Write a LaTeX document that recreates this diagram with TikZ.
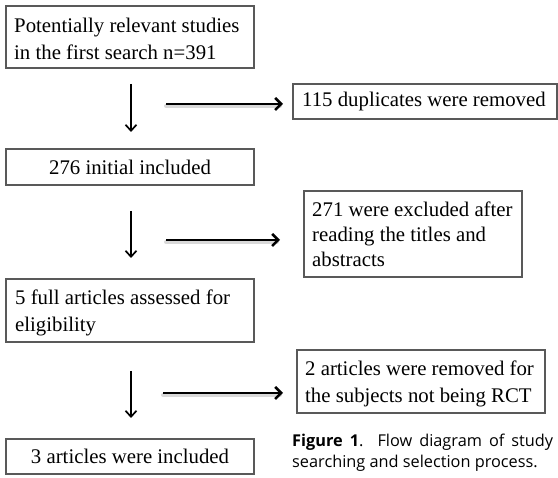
\documentclass[tikz,border=0pt]{standalone}
\usepackage{fontspec}
\setmainfont{Liberation Serif}
\newfontfamily\capfont{Open Sans}
\usetikzlibrary{arrows.meta}
\begin{document}
\begin{tikzpicture}[x=1pt,y=-1pt,
  flowbox/.style={draw=black!65, line width=1.1pt, inner sep=0pt, outer sep=0pt},
  boxtext/.style={inner sep=0pt, font=\fontsize{20.8}{27}\selectfont},
  lefttext/.style={boxtext, align=left, anchor=west},
  downarrow/.style={line width=1.7pt, -{Straight Barb[length=6pt,width=11pt,line width=1.7pt]}},
  sidearrow/.style={line width=2.6pt, -{Straight Barb[length=6pt,width=12pt,line width=2.6pt]}},
  arrowshade/.style={line width=4pt, black, opacity=0.15, line cap=round}]
\useasboundingbox (0,0) rectangle (558,478);

% boxes of the main column
\node[flowbox, minimum width=248pt, minimum height=62pt] (search) at (130,37) {};
\node[flowbox, minimum width=248pt, minimum height=36pt] (initial) at (130,167) {};
\node[flowbox, minimum width=248pt, minimum height=63pt] (full) at (130,310.5) {};
\node[flowbox, minimum width=248pt, minimum height=35pt] (final) at (130,456.5) {};

% boxes of the side column
\node[flowbox, minimum width=264pt, minimum height=35pt] (dup) at (425,101.5) {};
\node[flowbox, minimum width=218pt, minimum height=86pt] (excl) at (413,234) {};
\node[flowbox, minimum width=248pt, minimum height=63pt] (rct) at (421,381.5) {};

% texts of the boxes (canvas y points up, so a negative yshift lowers them)
\node[lefttext] (searcht) at ([xshift=8pt,yshift=-2pt]search.west)
  {Potentially relevant studies\\in the first search n=391};
\node[boxtext] (initialt) at (initial.center) {276 initial included};
\node[lefttext] (fullt) at ([xshift=9pt,yshift=-2pt]full.west)
  {5 full articles assessed for\\eligibility};
\node[boxtext] (finalt) at (final.center) {3 articles were included};
\node[lefttext] (dupt) at ([xshift=9pt]dup.west) {115 duplicates were removed};
\node[lefttext, font=\fontsize{20.8}{25}\selectfont] (exclt) at ([xshift=8pt]excl.west)
  {271 were excluded after\\reading the titles and\\abstracts};
\node[lefttext] (rctt) at ([xshift=8pt,yshift=-2pt]rct.west)
  {2 articles were removed for\\the subjects not being RCT};

% free ends of the arrows
\coordinate (d1s) at (131,84);  \coordinate (d1e) at (131,132);
\coordinate (d2s) at (131,211); \coordinate (d2e) at (131,258);
\coordinate (d3s) at (131,371); \coordinate (d3e) at (131,418);
\coordinate (h1s) at (166,104); \coordinate (h1e) at (283,104);
\coordinate (h2s) at (166,240); \coordinate (h2e) at (280,240);
\coordinate (h3s) at (163,393); \coordinate (h3e) at (283,393);

% soft shading under the side arrows
\foreach \a/\b in {h1s/h1e,h2s/h2e,h3s/h3e}
  \draw[arrowshade] ([yshift=-2pt]\a) -- ([yshift=-2pt,xshift=-3pt]\b);

\draw[downarrow] (d1s) -- (d1e);
\draw[downarrow] (d2s) -- (d2e);
\draw[downarrow] (d3s) -- (d3e);
\draw[sidearrow] (h1s) -- (h1e);
\draw[sidearrow] (h2s) -- (h2e);
\draw[sidearrow] (h3s) -- (h3e);

% caption
\node[anchor=north west, inner sep=0pt, align=left,
  font=\capfont\fontsize{16.3}{20.5}\selectfont] (caption) at (292,434)
  {\makebox[261pt][s]{\textbf{Figure 1}. Flow diagram of study}\\searching and selection process.};
\end{tikzpicture}
\end{document}
